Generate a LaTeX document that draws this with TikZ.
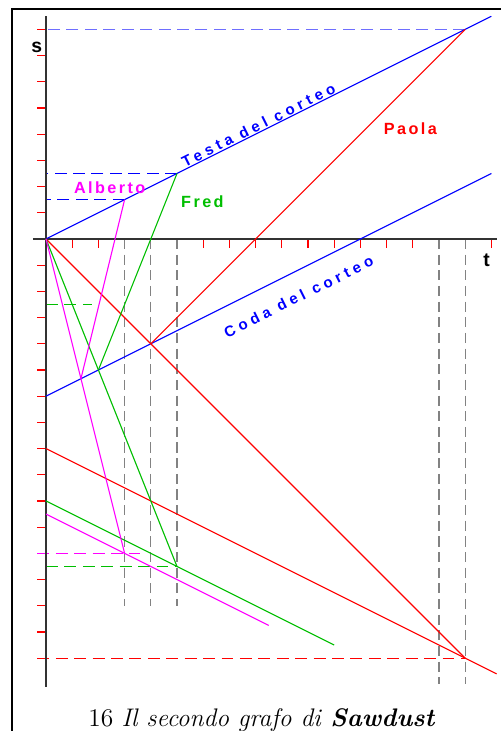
\documentclass[tikz,border=0pt]{standalone}
\usepackage{fontspec}
\usepackage{xcolor}
\usepackage{tikz}
\usetikzlibrary{calc}

\newfontfamily\namefont[LetterSpace=15]{Liberation Sans}
\newfontfamily\cortfont[LetterSpace=28]{Liberation Sans}
\newfontfamily\axfont{Liberation Sans}
\definecolor{fredgreen}{RGB}{0,190,0}
\definecolor{albmag}{RGB}{255,0,255}
\definecolor{paored}{RGB}{255,0,0}
\definecolor{cortblue}{RGB}{0,0,255}
\definecolor{guidablue}{RGB}{110,110,255}
\definecolor{guidagray}{RGB}{130,130,130}

\begin{document}
\begin{tikzpicture}[x=0.5cm, y=0.5cm,
    moto/.style={line width=0.6pt},
    guida/.style={line width=0.65pt, dash pattern=on 6.5pt off 3.5pt},
    nome/.style={font={\namefont\bfseries\fontsize{8.8}{10}\selectfont}, inner sep=0pt},
    corteo/.style={font={\cortfont\bfseries\fontsize{8.2}{10}\selectfont}, inner sep=0pt, text=cortblue, rotate=26.57},
    asse/.style={font={\axfont\bfseries\fontsize{10.5}{12}\selectfont}, inner sep=0pt}]
      \useasboundingbox (-1.756,-18.78) rectangle (17.366,9.122);
      \clip (-1.756,-18.78) rectangle (17.366,9.122);
      % cornice
      \draw[line width=1.2pt] (-1.3,-19) -- (-1.3,8.78) -- (17.5,8.78);
      % tacche
      \foreach \i in {0,...,17} {
        \draw[paored, line width=0.7pt] (\i,0) -- (\i,-0.33);
      }
      \foreach \j in {-16,...,8} {
        \draw[paored, line width=0.7pt] (-0.33,\j) -- (0,\j);
      }
      % linee guida
      \draw[guida, guidablue] (16,8) -- (0,8);
      \draw[guida, cortblue] (5,2.5) -- (0,2.5);
      \draw[guida, cortblue] (3,1.5) -- (0,1.5);
      \draw[guida, paored] (-0.33,-16) -- (16,-16);
      \draw[guida, albmag] (-0.33,-12) -- (3.6,-12);
      \draw[guida, fredgreen] (0,-12.5) -- (5,-12.5);
      \draw[guida, fredgreen] (0,-2.5) -- (1.75,-2.5);
      \draw[moto, fredgreen] (0,-2) -- (0,-3);
      \foreach \i/\f in {3/-14, 4/-14, 5/-14, 15/-17, 16/-17} {
        \draw[guida, guidagray, dash pattern=on 5.5pt off 3pt] (\i,0) -- (\i,\f);
      }
      % assi
      \draw[line width=0.8pt, black!80] (-0.5,0) -- (17.2,0);
      \draw[line width=0.8pt, black!80] (0,-17.1) -- (0,8.53);
      \node[asse] (s) at (-0.355,7.31) {s};
      \node[asse] (t) at (16.82,-0.8) {t};
      % punti
      \coordinate (O) at (0,0);
      \coordinate (testa) at (17,8.5);
      \coordinate (coda0) at (0,-6);
      \coordinate (coda) at (17,2.5);
      \coordinate (P1) at (4,-4);
      \coordinate (P2) at (16,8);
      \coordinate (P3) at (16,-16);
      \coordinate (F1) at (2,-5);
      \coordinate (F2) at (5,2.5);
      \coordinate (F3) at (5,-12.5);
      \coordinate (A1) at ({4/3},{-16/3});
      \coordinate (A2) at (3,1.5);
      \coordinate (A3) at (3,-12);
      % corteo
      \draw[moto, cortblue] (O) -- (testa);
      \draw[moto, cortblue] (coda0) -- (coda);
      % Paola
      \draw[moto, paored] (O) -- (P3);
      \draw[moto, paored] (P1) -- (P2);
      \draw[moto, paored] (0,-8) -- (17.2,-16.6);
      % Fred
      \draw[moto, fredgreen] (O) -- (F3);
      \draw[moto, fredgreen] (F1) -- (F2);
      \draw[moto, fredgreen] (0,-10) -- (11,-15.5);
      % Alberto
      \draw[moto, albmag] (O) -- (A3);
      \draw[moto, albmag] (A1) -- (A2);
      \draw[moto, albmag] (0,-10.5) -- (8.5,-14.75);
      % etichette
      \node[corteo] (testaLab) at (8.11,4.35) {Testa del corteo};
      \node[corteo] (codaLab) at (9.64,-2.2) {Coda del corteo};
      \node[nome, text=albmag] (alberto) at (2.43,1.97) {Alberto};
      \node[nome, text=fredgreen] (fred) at (5.97,1.41) {Fred};
      \node[nome, text=paored] (paola) at (13.91,4.21) {Paola};
      \node[anchor=base, font=\fontsize{13.8}{16}\selectfont] (didascalia) at (8.24,-18.62)
        {16 \textit{Il secondo grafo di} \textbf{\textit{Sawdust}}};
    \end{tikzpicture}
\end{document}
